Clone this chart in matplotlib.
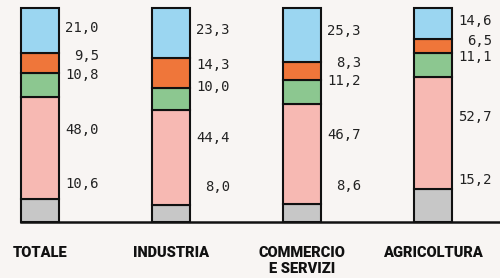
import numpy as np
import matplotlib
matplotlib.use("Agg")
import matplotlib.pyplot as plt
import matplotlib.transforms as mtransforms

# data, bottom to top
categories = ["TOTALE", "INDUSTRIA", "COMMERCIO\nE SERVIZI", "AGRICOLTURA"]
grigio = [10.6, 8.0, 8.6, 15.2]
rosa = [48.0, 44.4, 46.7, 52.7]
verde = [10.8, 10.0, 11.2, 11.1]
arancio = [9.5, 14.3, 8.3, 6.5]
azzurro = [21.0, 23.3, 25.3, 14.6]

series = [grigio, rosa, verde, arancio, azzurro]
colors = ["#c7c7c7", "#f7b9b3", "#8cc790", "#ef763a", "#9bd6f1"]
bg = "#f8f5f3"

fig = plt.figure(figsize=(5, 2.78), dpi=100, facecolor=bg)
ax = fig.add_axes([21/500, 56/278, 479/500, 214/278])
ax.set_facecolor(bg)

x = np.arange(len(categories))
bar_w = 38/131
bottom = np.zeros(len(categories))
for vals, col in zip(series, colors):
    vals = np.array(vals)
    ax.bar(x, vals, bar_w, bottom=bottom, color=col, edgecolor="#111111",
           linewidth=1.5, clip_on=False, zorder=2)
    centers = bottom + vals/2
    for xi, c, v in zip(x, centers, vals):
        ax.text(xi + 0.45, 13 + 0.87*c, f"{v:.1f}".replace(".", ","),
                ha="right", va="center", fontsize=10,
                family="DejaVu Sans Mono", color="#222222")
    bottom = bottom + vals

ax.set_xlim(-0.145, 3.511)
ax.set_ylim(0, 100)
for s in ["top", "right", "left"]:
    ax.spines[s].set_visible(False)
ax.spines["bottom"].set_linewidth(1.8)
ax.spines["bottom"].set_color("#111111")
ax.spines["bottom"].set_zorder(3)
ax.set_xticks([])
ax.set_yticks([])

trans = mtransforms.blended_transform_factory(ax.transData, ax.transAxes)
for xi, cat in zip(x, categories):
    ax.text(xi, -0.112, cat, transform=trans, ha="center", va="top",
            fontsize=10.5, family="Roboto", fontweight="black",
            linespacing=1.2, color="#111111")

fig.savefig("out.png", dpi=100, facecolor=bg)
